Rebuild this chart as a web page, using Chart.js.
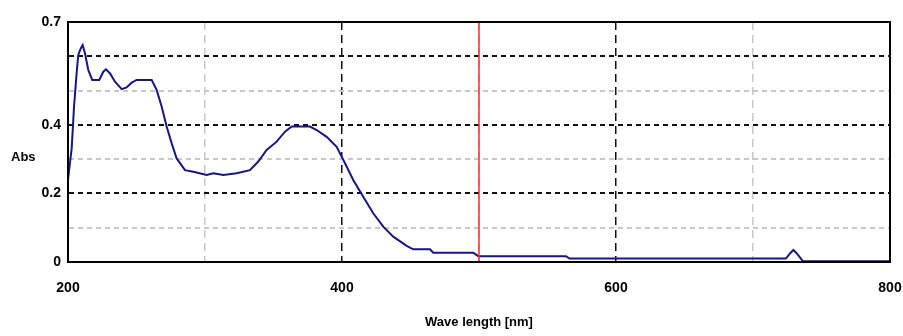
<!DOCTYPE html>
<html>
<head>
<meta charset="utf-8">
<script src="https://cdn.jsdelivr.net/npm/chart.js@4/dist/chart.umd.min.js"></script>
<style>
  html, body { margin: 0; padding: 0; background: #fff; }
  #wrap { width: 903px; height: 336px; }
</style>
</head>
<body>
<div id="wrap"><canvas id="spectrum" width="903" height="336"></canvas></div>
<script>
// spectrum
const wavelength = [200, 202.7, 204.4, 206.3, 207.5, 209.3, 210.7, 212.4, 214.8, 217.7,
    222.8, 225.8, 227.7, 230.7, 234.3, 239.2, 242.8, 246.5, 250.1, 261.1,
    264.7, 268.4, 272, 275.7, 279.3, 285.4, 291.5, 301.2, 306.1, 313.4,
    323.1, 332.8, 338.9, 345, 352.3, 358.4, 363.3, 376.6, 381.5, 388.8,
    396.1, 402.2, 408.2, 415.5, 422.8, 430.1, 437.4, 447.2, 452, 464.2,
    466.6, 495.8, 499.5, 563.5, 566, 724, 727, 729.5, 732, 736.5, 800];
const absorbance = [0.24, 0.332, 0.453, 0.551, 0.604, 0.623, 0.633, 0.609, 0.56, 0.531,
    0.531, 0.555, 0.562, 0.55, 0.526, 0.504, 0.509, 0.523, 0.531, 0.531,
    0.502, 0.453, 0.395, 0.346, 0.302, 0.268, 0.263, 0.254, 0.259, 0.254,
    0.259, 0.268, 0.293, 0.327, 0.351, 0.38, 0.395, 0.395, 0.385, 0.365,
    0.336, 0.288, 0.239, 0.19, 0.142, 0.103, 0.074, 0.047, 0.037, 0.037,
    0.027, 0.027, 0.017, 0.017, 0.010, 0.010, 0.025, 0.035, 0.025, 0.002, 0.002];

// cursor at 500 nm
const cursorX = [500, 500];
const cursorY = [0, 0.7];

const xLabels = [200, 400, 600, 800];
const yLabels = ['0', '0.2', '0.4', '0.7'];

const FONT = '"Liberation Sans", Arial, sans-serif';

const frame = {
    id: 'frame',
    afterDraw(chart) {
        const { ctx, chartArea: a } = chart;
        ctx.save();
        ctx.strokeStyle = '#000';
        ctx.lineWidth = 2;
        ctx.strokeRect(a.left, a.top, a.right - a.left, a.bottom - a.top);
        ctx.fillStyle = '#000';
        ctx.font = 'bold 13px ' + FONT;
        ctx.textBaseline = 'middle';
        ctx.textAlign = 'left';
        ctx.fillText('Abs', 11, 157);
        ctx.restore();
    }
};

new Chart(document.getElementById('spectrum'), {
    type: 'line',
    data: {
        datasets: [
            {
                data: cursorX.map((x, i) => ({ x: x, y: cursorY[i] })),
                borderColor: '#ff2a2a',
                borderWidth: 1.5,
                pointRadius: 0
            },
            {
                data: wavelength.map((x, i) => ({ x: x, y: absorbance[i] })),
                borderColor: '#15158f',
                borderWidth: 2,
                pointRadius: 0,
                tension: 0
            }
        ]
    },
    options: {
        responsive: false,
        animation: false,
        layout: { padding: { left: 0, right: 13, top: 22, bottom: 3 } },
        plugins: {
            legend: { display: false },
            tooltip: { enabled: false }
        },
        scales: {
            x: {
                type: 'linear',
                min: 200,
                max: 800,
                afterFit: s => {
                    s.height = 71;
                    s.paddingLeft = 0;
                    s.paddingRight = 0;
                },
                afterBuildTicks: s => {
                    s.ticks = [200, 300, 400, 500, 600, 700, 800].map(v => ({ value: v }));
                },
                ticks: {
                    padding: 18,
                    color: '#000',
                    font: { family: FONT, size: 14, weight: 'bold' },
                    maxRotation: 0,
                    autoSkip: false,
                    callback: v => xLabels.includes(v) ? String(v) : ''
                },
                grid: {
                    drawTicks: false,
                    lineWidth: 1.5,
                    color: c => {
                        const v = c.tick ? c.tick.value : 0;
                        if (v === 200 || v === 800) return 'rgba(0,0,0,0)';
                        return v % 200 === 0 ? '#111' : '#c8c8c8';
                    }
                },
                border: { color: '#000', width: 2, dash: [8, 5] },
                title: {
                    display: true,
                    text: 'Wave length [nm]',
                    color: '#000',
                    font: { family: FONT, size: 13, weight: 'bold' },
                    padding: { top: 10, bottom: 3 }
                }
            },
            y: {
                min: 0,
                max: 0.7,
                afterFit: s => {
                    s.width = 68;
                    s.paddingTop = 0;
                    s.paddingBottom = 0;
                },
                afterBuildTicks: s => {
                    s.ticks = [0, 1, 2, 3, 4, 5, 6, 7].map(k => ({ value: k / 10 }));
                },
                ticks: {
                    padding: 7,
                    color: '#000',
                    font: { family: FONT, size: 14, weight: 'bold' },
                    autoSkip: false,
                    callback: v => {
                        const s = String(Math.round(v * 10) / 10);
                        return yLabels.includes(s) ? s : '';
                    }
                },
                grid: {
                    drawTicks: false,
                    lineWidth: 2,
                    color: c => {
                        const k = c.tick ? Math.round(c.tick.value * 10) : 0;
                        if (k === 0 || k === 7) return 'rgba(0,0,0,0)';
                        return k % 2 === 0 ? '#111' : '#c8c8c8';
                    }
                },
                border: { color: '#000', width: 2, dash: [5, 4] }
            }
        }
    },
    plugins: [frame]
});
</script>
</body>
</html>
